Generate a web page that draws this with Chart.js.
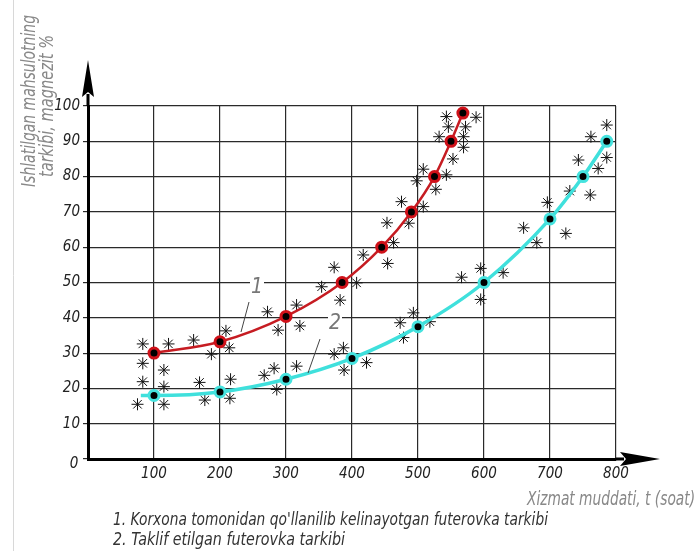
<!DOCTYPE html>
<html>
<head>
<meta charset="utf-8">
<script src="https://cdn.jsdelivr.net/npm/chart.js@4"></script>
<style>
  html, body { margin: 0; padding: 0; background: #fff; }
  #wrap { width: 695px; height: 551px; }
</style>
</head>
<body>
<div id="wrap"><canvas id="myChart"></canvas></div>
<script>
// curve 1 - current lining (red), curve 2 - proposed lining (cyan)
const hours1 = [100, 200, 300, 385, 445, 490, 525, 550, 568];
const share1 = [30, 33.2, 40.4, 50, 60, 70, 80, 90, 98];
const hours2 = [80, 100, 200, 300, 400, 500, 600, 700, 750, 786];
const share2 = [18, 18, 19, 22.6, 28.5, 37.5, 50, 68, 80, 90];

// measured points (asterisks)
const starX1 = [83, 122, 160, 209, 187, 214, 83, 115, 272, 316, 288, 321, 354, 373, 407, 382,
                417, 454, 453, 463, 475, 486, 508, 498, 508, 527, 543, 553, 532, 569, 569, 546, 572, 543, 588];
const starY1 = [32.6, 32.6, 33.7, 36.3, 29.7, 31.5, 27.1, 25.2, 41.7, 43.6, 36.5, 37.7, 48.8, 54.3, 49.9, 45,
                57.8, 55.4, 66.9, 61.3, 72.9, 66.8, 71.5, 78.8, 82.1, 76.4, 80.5, 85, 91.3, 91.3, 88.3, 94.1, 94.1, 97, 96.8];
const starX2 = [83, 115, 75, 115, 169, 177, 216, 215, 267, 282, 286, 316, 373, 387, 388, 422, 473, 478,
                493, 518, 566, 595, 629, 595, 660, 680, 696, 724, 730, 761, 743, 773, 762, 786, 786];
const starY2 = [21.9, 20.5, 15.5, 15.5, 21.7, 16.7, 22.6, 17.2, 23.7, 25.7, 19.7, 26.3, 29.7, 31.5, 25.2, 27.3, 38.6, 34.4,
                41.4, 38.9, 51.5, 54, 52.8, 45.2, 65.5, 61.3, 72.7, 63.9, 75.9, 74.8, 84.7, 82.3, 91.3, 94.6, 85.4];

const xTicks = [0, 100, 200, 300, 400, 500, 600, 700, 800];
const yTicks = [0, 10, 20, 30, 40, 50, 60, 70, 80, 90, 100];

const yTitle = ["Ishlatilgan mahsulotning", "tarkibi, magnezit %"];
const xTitle = "Xizmat muddati, t (soat)";
const notes = ["1. Korxona tomonidan qo'llanilib kelinayotgan futerovka tarkibi",
               "2. Taklif etilgan futerovka tarkibi"];

const FONT = '"Liberation Sans Narrow", "DejaVu Sans Condensed", "Liberation Sans", sans-serif';

function pts(xs, ys) {
    return xs.map((x, i) => ({x: x, y: ys[i]}));
}

const extras = {
    id: 'extras',
    afterDraw(chart) {
        const ctx = chart.ctx;
        const xs = chart.scales.x, ys = chart.scales.y;
        const x0 = xs.getPixelForValue(0), y0 = ys.getPixelForValue(0);
        const xEnd = xs.getPixelForValue(800), yTop = ys.getPixelForValue(100);
        ctx.save();

        // faint left border
        ctx.strokeStyle = '#d8d8d8';
        ctx.lineWidth = 1;
        ctx.beginPath(); ctx.moveTo(13.5, 0); ctx.lineTo(13.5, 551); ctx.stroke();

        // axis extensions and arrows
        ctx.strokeStyle = '#000';
        ctx.fillStyle = '#000';
        ctx.lineWidth = 3;
        ctx.beginPath();
        ctx.moveTo(x0, yTop); ctx.lineTo(x0, yTop - 12);
        ctx.moveTo(xEnd, y0); ctx.lineTo(xEnd + 8, y0);
        ctx.stroke();
        ctx.beginPath();
        ctx.moveTo(x0, 60); ctx.lineTo(x0 - 6, 97); ctx.lineTo(x0, 92); ctx.lineTo(x0 + 6, 97);
        ctx.closePath(); ctx.fill();
        ctx.beginPath();
        ctx.moveTo(660, y0); ctx.lineTo(620, y0 - 7); ctx.lineTo(626, y0); ctx.lineTo(620, y0 + 7);
        ctx.closePath(); ctx.fill();

        // "0" at the origin
        ctx.fillStyle = '#222';
        ctx.font = 'italic 15px ' + FONT;
        ctx.textAlign = 'center';
        ctx.textBaseline = 'middle';
        ctx.fillText('0', 74, 464);

        // curve labels with leader lines
        ctx.font = 'italic 21px ' + FONT;
        [['1', 257, 288, 249, 302, 241, 332], ['2', 335, 324, 320, 339, 308, 373]].forEach(l => {
            ctx.fillStyle = '#fff';
            ctx.fillRect(l[1] - 7, l[2] - 11, 14, 22);
            ctx.fillStyle = '#777';
            ctx.fillText(l[0], l[1], l[2]);
            ctx.strokeStyle = '#444';
            ctx.lineWidth = 1;
            ctx.beginPath(); ctx.moveTo(l[3], l[4]); ctx.lineTo(l[5], l[6]); ctx.stroke();
        });

        // axis titles
        ctx.fillStyle = '#888';
        ctx.font = 'italic 19px ' + FONT;
        ctx.save();
        ctx.translate(30, 101);
        ctx.rotate(-Math.PI / 2);
        ctx.fillText(yTitle[0], 0, 0, 172);
        ctx.restore();
        ctx.save();
        ctx.translate(48, 106);
        ctx.rotate(-Math.PI / 2);
        ctx.fillText(yTitle[1], 0, 0, 142);
        ctx.restore();

        ctx.textAlign = 'left';
        ctx.fillText(xTitle, 527, 500, 168);

        ctx.fillStyle = '#333';
        ctx.font = 'italic 17px ' + FONT;
        ctx.fillText(notes[0], 113, 521, 435);
        ctx.fillText(notes[1], 113, 541, 232);
        ctx.restore();
    }
};

const canva = document.getElementById('myChart');

new Chart(canva, {
    type: 'scatter',
    data: {
        datasets: [
            {
                type: 'line',
                data: pts(hours1, share1),
                borderColor: '#c61c22',
                borderWidth: 2.5,
                cubicInterpolationMode: 'monotone',
                pointRadius: 5,
                pointBackgroundColor: '#000',
                pointBorderColor: '#cf1119',
                pointBorderWidth: 3,
                order: 1
            },
            {
                type: 'line',
                data: pts(hours2, share2),
                borderColor: '#3fe0dc',
                borderWidth: 3.5,
                cubicInterpolationMode: 'monotone',
                pointRadius: hours2.map((h, i) => i === 0 ? 0 : 5),
                pointBackgroundColor: '#000',
                pointBorderColor: '#45e3df',
                pointBorderWidth: 3,
                order: 1
            },
            {
                data: pts(starX1, starY1).concat(pts(starX2, starY2)),
                pointStyle: 'star',
                radius: 6,
                borderColor: '#111',
                borderWidth: 1,
                backgroundColor: '#000',
                order: 2
            }
        ]
    },
    options: {
        responsive: true,
        maintainAspectRatio: false,
        animation: false,
        layout: { padding: { left: 0, right: 79, top: 106, bottom: 0 } },
        plugins: {
            legend: { display: false },
            tooltip: { enabled: false }
        },
        scales: {
            x: {
                type: 'linear',
                min: 0,
                max: 800,
                afterFit: s => { s.height = 92; },
                afterBuildTicks: s => { s.ticks = xTicks.map(v => ({value: v})); },
                border: { color: '#000', width: 3 },
                grid: { color: '#2a2a2a', lineWidth: 1.2, drawTicks: false },
                ticks: {
                    padding: 6,
                    color: '#222',
                    font: { family: FONT, size: 15, style: 'italic' },
                    callback: v => v === 0 ? '' : String(v)
                }
            },
            y: {
                min: 0,
                max: 100,
                afterFit: s => { s.width = 88; },
                afterBuildTicks: s => { s.ticks = yTicks.map(v => ({value: v})); },
                border: { color: '#000', width: 3 },
                grid: { color: '#2a2a2a', lineWidth: 1.2, tickLength: 5 },
                ticks: {
                    padding: 3,
                    color: '#222',
                    font: { family: FONT, size: 15, style: 'italic' },
                    callback: v => v === 0 ? '' : String(v)
                }
            }
        }
    },
    plugins: [extras]
});
</script>
</body>
</html>
